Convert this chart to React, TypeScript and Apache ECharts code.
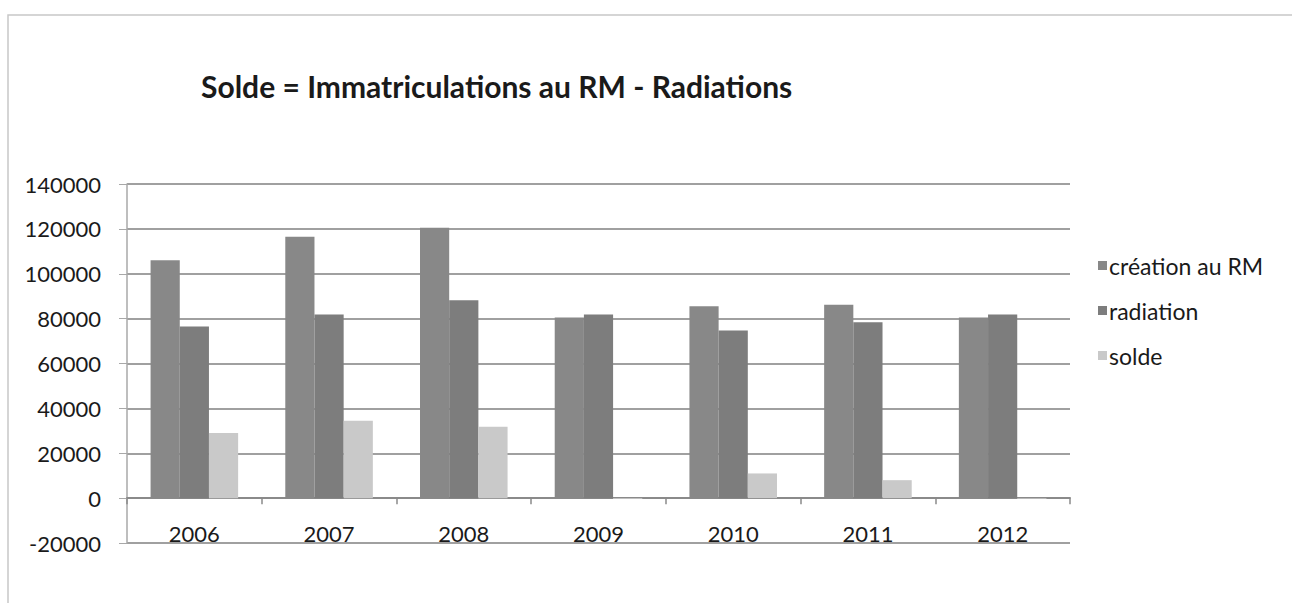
import React, { useEffect, useRef } from "react";
import * as echarts from "echarts";

const categories = ["2006", "2007", "2008", "2009", "2010", "2011", "2012"];
const creation = [106000, 116500, 120500, 80500, 85500, 86200, 80500];
const radiation = [76500, 81800, 88200, 81800, 74700, 78400, 81800];
const solde = [29000, 34500, 31800, -400, 11000, 8000, -400];
const seriesNames = ["création au RM", "radiation", "solde"];
const titleText = "Solde = Immatriculations au RM - Radiations";

const FONT = "Lato, 'Open Sans', sans-serif";

export default function App() {
  const ref = useRef<HTMLDivElement>(null);
  useEffect(() => {
    if (!ref.current) return;
    const chart = echarts.init(ref.current, undefined, { renderer: "svg" });
    chart.setOption({
      animation: false,
      backgroundColor: "#ffffff",
      textStyle: { fontFamily: FONT, color: "#1a1a1a" },
      title: {
        text: titleText,
        left: 196,
        top: 66,
        textStyle: { fontFamily: FONT, fontWeight: "bold", fontSize: 30, color: "#1a1a1a" },
      },
      legend: {
        orient: "vertical",
        left: 1093,
        top: 249,
        itemWidth: 9,
        itemHeight: 9,
        itemGap: 22,
        icon: "rect",
        textStyle: { fontFamily: FONT, fontSize: 23, color: "#1a1a1a", lineHeight: 23, padding: [0, 0, 0, -3] },
        data: seriesNames,
      },
      graphic: [
        {
          type: "polyline",
          shape: { points: [[8, 603], [8, 15], [1292, 15]] },
          style: { stroke: "#c8c8c8", lineWidth: 1.5, fill: "none" },
          silent: true,
        },
      ],
      grid: { left: 127, right: 222, top: 184, bottom: 60, containLabel: false },
      xAxis: {
        type: "category",
        data: categories,
        axisLine: { onZero: true, lineStyle: { color: "#8a8a8a", width: 2 } },
        axisTick: { show: true, length: 6, lineStyle: { color: "#8a8a8a", width: 1.5 } },
        axisLabel: { fontFamily: FONT, fontSize: 22, color: "#1a1a1a", margin: -21 },
        splitLine: { show: false },
      },
      yAxis: {
        type: "value",
        min: -20000,
        max: 140000,
        interval: 20000,
        axisLine: { show: true, lineStyle: { color: "#a8a8a8", width: 1.5 } },
        axisTick: { show: true, length: 8, lineStyle: { color: "#a8a8a8" } },
        axisLabel: {
          fontFamily: FONT,
          fontSize: 22,
          color: "#1a1a1a",
          margin: 26,
          formatter: (v: number) => String(v),
        },
        splitLine: { show: true, lineStyle: { color: "#a0a0a0", width: 2 } },
      },
      series: [
        {
          name: seriesNames[0],
          type: "bar",
          data: creation,
          barGap: "0%",
          barCategoryGap: "35%",
          itemStyle: { color: "#888888" },
        },
        {
          name: seriesNames[1],
          type: "bar",
          data: radiation,
          itemStyle: { color: "#7d7d7d" },
        },
        {
          name: seriesNames[2],
          type: "bar",
          data: solde,
          itemStyle: { color: "#c9c9c9" },
        },
      ],
    });
    return () => chart.dispose();
  }, []);
  return (
    <div
      ref={ref}
      style={{ position: "fixed", left: 0, top: 0, width: 1292, height: 603 }}
    />
  );
}
